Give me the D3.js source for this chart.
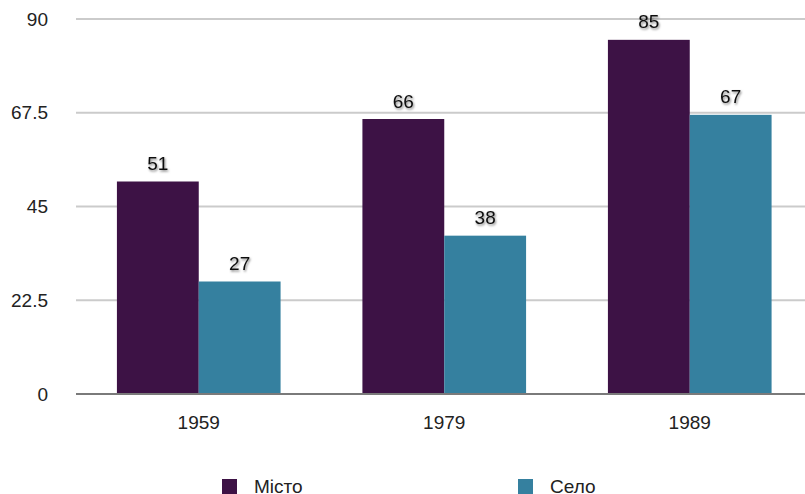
<!DOCTYPE html>
<html>
<head>
<meta charset="utf-8">
<script src="https://d3js.org/d3.v7.min.js"></script>
<style>
    body { margin: 0; background: #fff; }
    svg { display: block; font-family: "Liberation Sans", Arial, sans-serif; }
</style>
</head>
<body>
<div id="chart"></div>
<script>
    // chart data
    var years = ["1959", "1979", "1989"];
    var seriesNames = ["Місто", "Село"];
    var misto = [51, 66, 85];
    var selo = [27, 38, 67];
    var yTicks = [0, 22.5, 45, 67.5, 90];
    var colors = ["#3d1245", "#35809f"];

    var width = 805, height = 494;
    var plotLeft = 76, plotRight = 812.5, plotTop = 19, plotBottom = 394;

    var svg = d3.select("#chart").append("svg")
        .attr("width", width)
        .attr("height", height);

    var defs = svg.append("defs");
    var f = defs.append("filter").attr("id", "shadow")
        .attr("x", "-30%").attr("y", "-30%").attr("width", "160%").attr("height", "160%");
    f.append("feDropShadow")
        .attr("dx", 1).attr("dy", 1.5).attr("stdDeviation", 1.2)
        .attr("flood-color", "#000").attr("flood-opacity", 0.5);

    var x = d3.scaleBand().domain(years).range([plotLeft, plotRight])
        .paddingInner(1 / 3).paddingOuter(1 / 6);
    var x1 = d3.scaleBand().domain(seriesNames).range([0, x.bandwidth()]);
    var y = d3.scaleLinear().domain([0, 90]).range([plotBottom, plotTop]);

    // gridlines
    svg.append("g").selectAll("line")
        .data(yTicks.filter(function (d) { return d > 0; }))
        .enter().append("line")
        .attr("x1", plotLeft).attr("x2", width)
        .attr("y1", function (d) { return y(d); })
        .attr("y2", function (d) { return y(d); })
        .attr("stroke", "#cbcbcb")
        .attr("stroke-width", 2);

    // y labels
    svg.append("g").selectAll("text")
        .data(yTicks)
        .enter().append("text")
        .attr("x", 48)
        .attr("y", function (d) { return y(d); })
        .attr("dy", "0.35em")
        .attr("text-anchor", "end")
        .attr("font-size", 19)
        .attr("fill", "#222")
        .text(function (d) { return d; });

    var rows = years.map(function (yr, i) {
        return { year: yr, values: [misto[i], selo[i]] };
    });

    var groups = svg.append("g").selectAll("g")
        .data(rows)
        .enter().append("g")
        .attr("transform", function (d) { return "translate(" + x(d.year) + ",0)"; });

    groups.selectAll("rect")
        .data(function (d) { return d.values.map(function (v, j) { return { s: seriesNames[j], v: v, j: j }; }); })
        .enter().append("rect")
        .attr("x", function (d) { return x1(d.s); })
        .attr("width", x1.bandwidth())
        .attr("y", function (d) { return y(d.v); })
        .attr("height", function (d) { return plotBottom - y(d.v); })
        .attr("fill", function (d) { return colors[d.j]; });

    groups.selectAll("text")
        .data(function (d) { return d.values.map(function (v, j) { return { s: seriesNames[j], v: v }; }); })
        .enter().append("text")
        .attr("x", function (d) { return x1(d.s) + x1.bandwidth() / 2; })
        .attr("y", function (d) { return y(d.v) - 11.5; })
        .attr("text-anchor", "middle")
        .attr("font-size", 19)
        .attr("fill", "#111")
        .attr("filter", "url(#shadow)")
        .text(function (d) { return d.v; });

    // baseline
    svg.append("line")
        .attr("x1", plotLeft).attr("x2", width)
        .attr("y1", plotBottom).attr("y2", plotBottom)
        .attr("stroke", "#7a7a7a")
        .attr("stroke-width", 2);

    // x labels
    svg.append("g").selectAll("text")
        .data(years)
        .enter().append("text")
        .attr("x", function (d) { return x(d) + x.bandwidth() / 2; })
        .attr("y", 429)
        .attr("text-anchor", "middle")
        .attr("font-size", 19)
        .attr("fill", "#222")
        .text(function (d) { return d; });

    // legend
    var legendX = [222, 518];
    var legend = svg.append("g").selectAll("g")
        .data(seriesNames)
        .enter().append("g")
        .attr("transform", function (d, i) { return "translate(" + legendX[i] + ",479)"; });
    legend.append("rect")
        .attr("width", 15).attr("height", 15)
        .attr("fill", function (d, i) { return colors[i]; });
    legend.append("text")
        .attr("x", 32).attr("y", 13.5)
        .attr("font-size", 19)
        .attr("fill", "#222")
        .text(function (d) { return d; });
</script>
</body>
</html>
